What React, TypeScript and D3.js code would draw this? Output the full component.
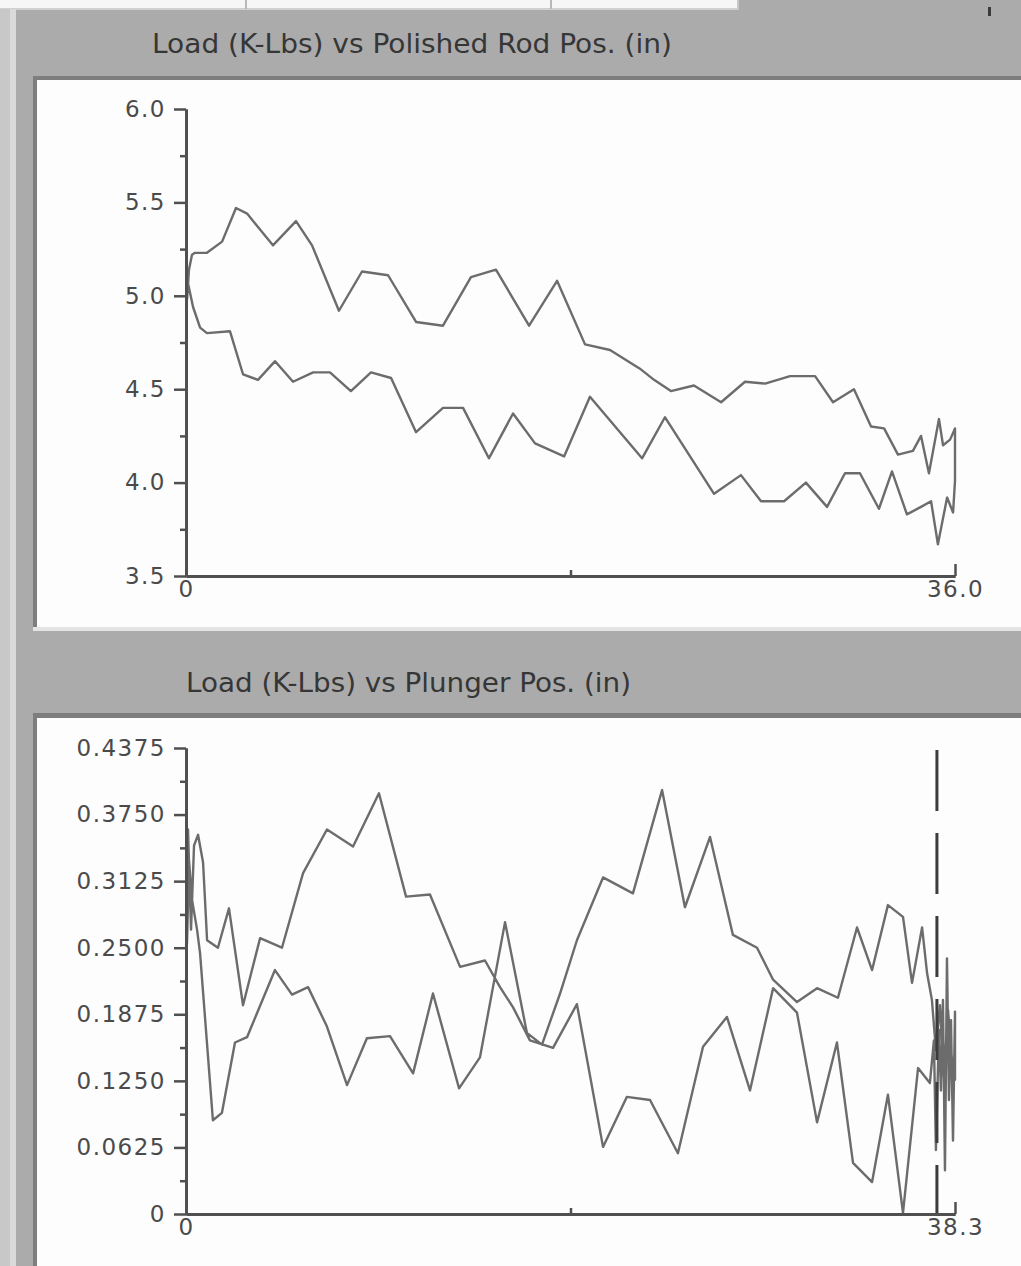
import React, { useRef, useEffect } from 'react';
import * as d3 from 'd3';

// Polished rod card: upstroke left->right, then downstroke back to 0
const rodPos = [
  0.05, 0.14, 0.28, 0.42, 0.98, 1.69, 2.34, 2.86, 4.07, 5.15, 5.9, 7.16, 8.24, 9.46, 10.77,
  12.03, 13.34, 14.51, 16.06, 17.37, 18.68, 19.85, 21.25, 21.91, 22.7, 23.78, 25.05, 26.17,
  27.11, 28.28, 29.45, 30.29, 31.27, 32.07, 32.68, 33.33, 34.03, 34.41, 34.78, 35.25, 35.44,
  35.77, 36.0, 36.0, 35.91, 35.63, 35.2, 34.88, 34.41, 33.75, 33.05, 32.44, 31.55, 30.85,
  30.01, 29.02, 28.0, 26.92, 25.98, 24.72, 22.42, 21.35, 18.91, 17.7, 16.34, 15.31, 14.18,
  12.97, 12.03, 10.77, 9.6, 8.66, 7.72, 6.74, 5.95, 5.01, 4.17, 3.37, 2.67, 2.06, 0.98,
  0.66, 0.33, 0.09, 0.05,
];
const rodLoad = [
  4.98, 5.14, 5.22, 5.23, 5.23, 5.29, 5.47, 5.44, 5.27, 5.4, 5.27, 4.92, 5.13, 5.11, 4.86,
  4.84, 5.1, 5.14, 4.84, 5.08, 4.74, 4.71, 4.61, 4.55, 4.49, 4.52, 4.43, 4.54,
  4.53, 4.57, 4.57, 4.43, 4.5, 4.3, 4.29, 4.15, 4.17, 4.25, 4.05, 4.34, 4.2,
  4.23, 4.29, 4.01, 3.84, 3.92, 3.67, 3.9, 3.87, 3.83, 4.06, 3.86, 4.05, 4.05,
  3.87, 4.0, 3.9, 3.9, 4.04, 3.94, 4.35, 4.13, 4.46, 4.14, 4.21, 4.37, 4.13,
  4.4, 4.4, 4.27, 4.56, 4.59, 4.49, 4.59, 4.59, 4.54, 4.65, 4.55, 4.58, 4.81, 4.8,
  4.83, 4.94, 5.07, 4.98,
];

// Plunger card
const plungerPos = [
  0.05, 0.1, 0.25, 0.4, 0.6, 0.85, 1.05, 1.59, 2.14, 2.84, 3.69, 4.78, 5.83, 7.02, 8.32,
  9.61, 10.96, 12.15, 13.65, 14.89, 15.64, 16.29, 17.13, 18.28, 19.47, 20.77, 21.96, 23.11,
  24.5, 25.75, 26.94, 28.09, 29.24, 30.43, 31.43, 32.42, 33.22, 34.17, 34.96, 35.71, 36.46,
  37.05, 37.25, 37.35, 37.5, 37.6, 37.7, 37.8, 37.9, 38.0, 38.1, 38.2, 38.3, 38.3, 38.15,
  37.95, 37.75, 37.55, 37.35, 37.15, 36.91, 36.66, 36.16, 35.71, 34.96, 34.17, 33.42, 32.47,
  31.43, 30.43, 29.24, 28.44, 27.24, 26.1, 24.85, 23.71, 22.26, 20.77, 19.47, 18.63, 17.73,
  16.98, 15.89, 14.64, 13.6, 12.3, 11.31, 10.16, 9.01, 8.02, 7.02, 6.08, 5.28, 4.43, 3.04,
  2.44, 1.79, 1.34, 0.7, 0.55, 0.3, 0.15, 0.05,
];
const plungerLoad = [
  0.254, 0.361, 0.267, 0.346, 0.356, 0.33, 0.257, 0.25, 0.287, 0.196, 0.259, 0.25, 0.32,
  0.361, 0.345, 0.395, 0.298, 0.3, 0.232, 0.238, 0.213, 0.194, 0.163, 0.156, 0.197, 0.063,
  0.11, 0.107, 0.057, 0.157, 0.185, 0.116, 0.212, 0.189, 0.086, 0.161, 0.048, 0.03, 0.112,
  0.001, 0.137, 0.123, 0.163, 0.06, 0.173, 0.116, 0.201, 0.041, 0.24, 0.107, 0.182, 0.069,
  0.19, 0.126, 0.145, 0.192, 0.126, 0.196, 0.154, 0.201, 0.226, 0.269, 0.217, 0.279, 0.29,
  0.229, 0.269, 0.203, 0.212, 0.199, 0.22, 0.25, 0.262, 0.354, 0.288, 0.398, 0.301, 0.316,
  0.257, 0.207, 0.159, 0.17, 0.274, 0.147, 0.118, 0.207, 0.132, 0.167, 0.165, 0.121, 0.176,
  0.213, 0.206, 0.229, 0.166, 0.161, 0.095, 0.088, 0.245, 0.267, 0.295, 0.332, 0.254,
];

const rodYTicks = [3.5, 4.0, 4.5, 5.0, 5.5, 6.0];
const plungerYTicks = [0, 0.0625, 0.125, 0.1875, 0.25, 0.3125, 0.375, 0.4375];
const rodStroke = 36.0;
const plungerStroke = 38.3;
const plungerMarker = 37.4;
const rodTitle = 'Load (K-Lbs) vs Polished Rod Pos. (in)';
const plungerTitle = 'Load (K-Lbs) vs Plunger Pos. (in)';

const AXIS = '#505050';
const LINE = '#6c6c6c';
const LABEL = '#4a4a4a';

interface PanelProps {
  xs: number[];
  ys: number[];
  xMax: number;
  yTicks: number[];
  fmt: (d: number) => string;
  bottom: number;
  top: number;
  marker?: number;
}

const Panel: React.FC<PanelProps> = ({ xs, ys, xMax, yTicks, fmt, bottom, top, marker }) => {
  const ref = useRef<SVGGElement>(null);

  useEffect(() => {
    if (!ref.current) return;
    const g = d3.select(ref.current);
    g.selectAll('*').remove();

    const x = d3.scaleLinear().domain([0, xMax]).range([186, 955]);
    const y = d3.scaleLinear().domain([yTicks[0], yTicks[yTicks.length - 1]]).range([bottom, top]);

    // the card itself
    const line = d3.line<number>().x(i => x(xs[i])).y(i => y(ys[i]));
    g.append('path')
      .datum(d3.range(xs.length))
      .attr('d', line)
      .attr('fill', 'none')
      .attr('stroke', LINE)
      .attr('stroke-width', 2.4)
      .attr('stroke-linejoin', 'round');

    if (marker != null) {
      g.append('line')
        .attr('x1', x(marker)).attr('x2', x(marker))
        .attr('y1', top + 2).attr('y2', bottom)
        .attr('stroke', '#3c3c3c')
        .attr('stroke-width', 3)
        .attr('stroke-dasharray', '61 22');
    }

    const minors = d3.pairs(yTicks).map(([a, b]) => (a + b) / 2);
    const yMinor = g.append('g').attr('transform', 'translate(186,0)')
      .call(d3.axisLeft(y).tickValues(minors).tickSize(6).tickSizeOuter(0).tickFormat(() => ''));
    const yMajor = g.append('g').attr('transform', 'translate(186,0)')
      .call(d3.axisLeft(y).tickValues(yTicks).tickSize(12).tickSizeOuter(0).tickPadding(8)
        .tickFormat(d => fmt(d as number)));
    const xMinor = g.append('g').attr('transform', `translate(0,${bottom})`)
      .call(d3.axisBottom(x).tickValues([xMax / 2]).tickSize(-6).tickSizeOuter(0).tickFormat(() => ''));
    const xMajor = g.append('g').attr('transform', `translate(0,${bottom})`)
      .call(d3.axisBottom(x).tickValues([0, xMax]).tickSize(-12).tickSizeOuter(0).tickPadding(5)
        .tickFormat(d => (d === 0 ? '0' : d3.format('.1f')(d as number))));

    [yMinor, yMajor, xMinor, xMajor].forEach(a => {
      a.select('.domain').attr('stroke', AXIS).attr('stroke-width', 3);
      a.selectAll('.tick line').attr('stroke', AXIS).attr('stroke-width', 2.5);
      a.attr('font-family', '"DejaVu Sans", sans-serif').attr('font-size', 23);
      a.selectAll('.tick text').attr('fill', LABEL).attr('letter-spacing', 1.5);
    });
  }, [xs, ys, xMax, yTicks, fmt, bottom, top, marker]);

  return <g ref={ref} />;
};

const rodFmt = (d: number) => d3.format('.1f')(d);
const plungerFmt = (d: number) => (d === 0 ? '0' : d3.format('.4f')(d));

export default function App() {
  const titleFont = { fontFamily: '"DejaVu Sans", sans-serif', fontSize: 26, fill: '#363636' };
  return (
    <svg width={1021} height={1266} style={{ position: 'absolute', left: 0, top: 0, display: 'block' }}>
      {/* window chrome */}
      <rect x={0} y={0} width={1021} height={1266} fill="#ababab" />
      <rect x={0} y={0} width={738} height={9} fill="#f6f6f6" />
      <line x1={0} x2={738} y1={9} y2={9} stroke="#d0d0d0" strokeWidth={2} />
      <line x1={246} x2={246} y1={0} y2={9} stroke="#b8b8b8" strokeWidth={2} />
      <line x1={551} x2={551} y1={0} y2={9} stroke="#b8b8b8" strokeWidth={2} />
      <line x1={738} x2={738} y1={0} y2={10} stroke="#c8c8c8" strokeWidth={2} />
      <rect x={988} y={7} width={3} height={9} fill="#3a3a3a" />
      <rect x={0} y={9} width={10} height={1257} fill="#c8c8c8" />
      <rect x={10} y={9} width={6} height={1257} fill="#dadada" />

      {/* top plot box */}
      <rect x={33} y={76} width={988} height={555} fill="#e4e4e4" />
      <rect x={33} y={76} width={988} height={4} fill="#7e7e7e" />
      <rect x={33} y={76} width={4} height={551} fill="#7e7e7e" />
      <rect x={37} y={80} width={984} height={547} fill="#fdfdfd" />

      {/* bottom plot box */}
      <rect x={33} y={713} width={988} height={5} fill="#7e7e7e" />
      <rect x={33} y={713} width={4} height={553} fill="#7e7e7e" />
      <rect x={37} y={718} width={984} height={548} fill="#fdfdfd" />

      <text x={152} y={53} {...titleFont} textLength={520} lengthAdjust="spacingAndGlyphs">{rodTitle}</text>
      <text x={186} y={692} {...titleFont} textLength={445} lengthAdjust="spacingAndGlyphs">{plungerTitle}</text>

      <Panel xs={rodPos} ys={rodLoad} xMax={rodStroke} yTicks={rodYTicks} fmt={rodFmt} bottom={576} top={109} />
      <Panel xs={plungerPos} ys={plungerLoad} xMax={plungerStroke} yTicks={plungerYTicks} fmt={plungerFmt}
        bottom={1214} top={748} marker={plungerMarker} />
    </svg>
  );
}
